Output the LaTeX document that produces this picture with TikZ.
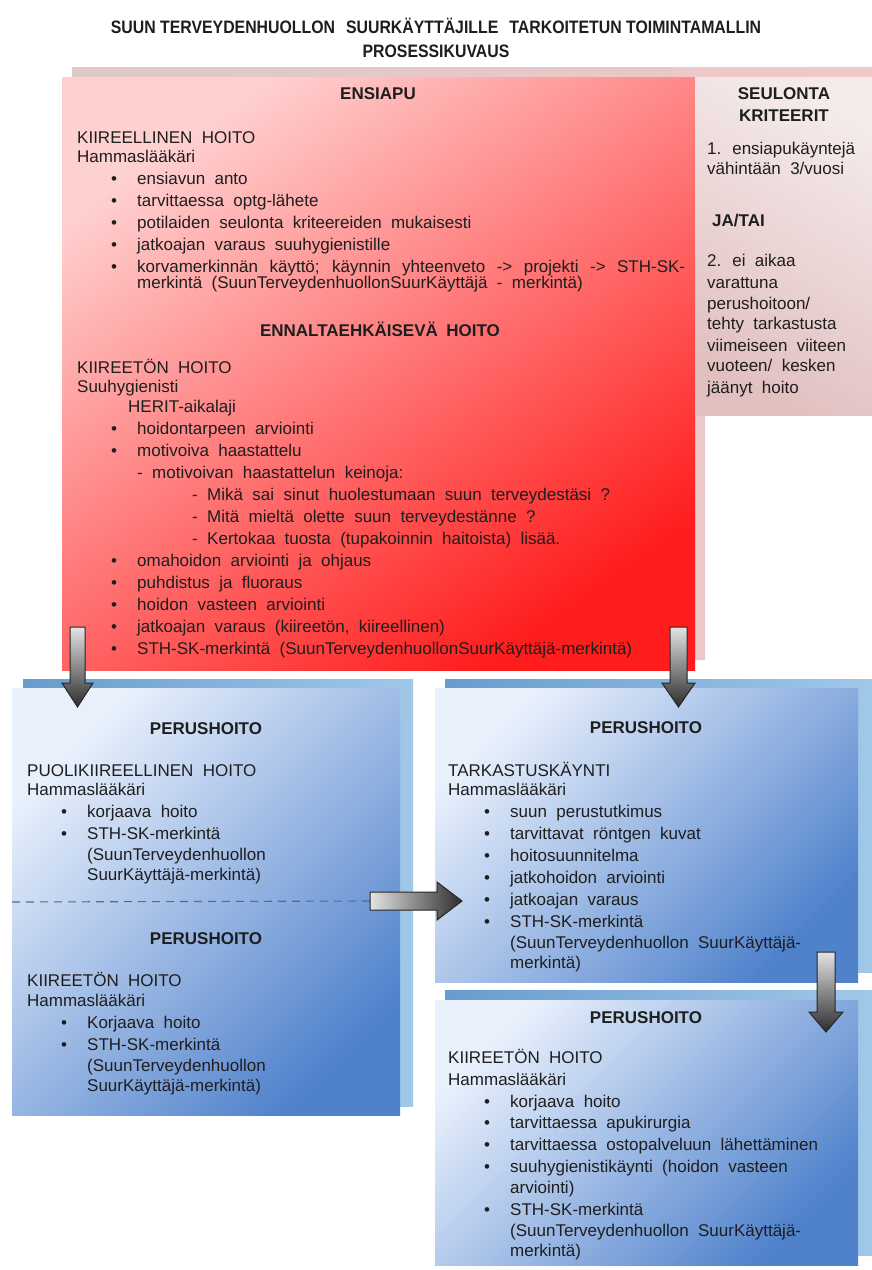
\documentclass[tikz,border=0pt]{standalone}
\usepackage{graphicx}
\usepackage{fontspec}
\setmainfont{Liberation Sans}
\usetikzlibrary{calc}

\definecolor{redlight}{RGB}{255,208,208}
\definecolor{reddeep}{RGB}{255,28,28}
\definecolor{redbackL}{RGB}{222,200,200}
\definecolor{redbackR}{RGB}{240,200,200}
\definecolor{seulA}{RGB}{244,234,234}
\definecolor{seulB}{RGB}{226,192,192}
\definecolor{bluelight}{RGB}{232,240,252}
\definecolor{bluedeep}{RGB}{80,130,204}
\definecolor{bluebackL}{RGB}{104,156,206}
\definecolor{bluebackR}{RGB}{160,200,232}
\definecolor{inkc}{RGB}{30,30,30}
\definecolor{dashc}{RGB}{78,108,150}
\definecolor{arrowlight}{RGB}{228,228,228}
\definecolor{arrowdark}{RGB}{45,45,45}

\newcommand\bodyfont{\fontsize{17}{20}\selectfont\spaceskip=0.55em plus 0.4em minus 0.1em\relax}
\newcommand\headfont{\fontsize{17}{20}\selectfont\bfseries}
\newcommand\titlefont{\fontsize{18}{20}\selectfont\bfseries}
\newcommand\itm[1]{\makebox[26pt][l]{\textbullet}#1}

% fat block arrows: start, tip, shaft half width, head half width, head length
\newcommand{\fatdown}[5]{%
  \path[fatarrow, top color=arrowlight, bottom color=arrowdark]
    ($(#1)+(-#3,0)$) -- ($(#2)+(-#3,-#5)$) -- ($(#2)+(-#4,-#5)$) -- (#2)
    -- ($(#2)+(#4,-#5)$) -- ($(#2)+(#3,-#5)$) -- ($(#1)+(#3,0)$) -- cycle;}
\newcommand{\fatright}[5]{%
  \path[fatarrow, left color=arrowlight, right color=arrowdark]
    ($(#1)+(0,-#3)$) -- ($(#2)+(-#5,-#3)$) -- ($(#2)+(-#5,-#4)$) -- (#2)
    -- ($(#2)+(-#5,#4)$) -- ($(#2)+(-#5,#3)$) -- ($(#1)+(0,#3)$) -- cycle;}

\tikzset{
  panel/.style={draw=none, inner sep=0pt, outer sep=0pt, anchor=north west},
  redmain/.style={panel, top color=redlight, bottom color=reddeep, shading angle=35},
  seulmain/.style={panel, top color=seulA, bottom color=seulB, shading angle=-30},
  blueback/.style={panel, left color=bluebackL, right color=bluebackR},
  bluemain/.style={panel, top color=bluelight, bottom color=bluedeep, shading angle=45},
  txt/.style={anchor=base west, inner sep=0pt, text=inkc, font=\bodyfont},
  headline/.style={anchor=base, inner sep=0pt, text=inkc, font=\headfont},
  fatarrow/.style={draw=black!85, line width=1pt, line join=miter},
  dashline/.style={draw=dashc, line width=1.1pt, dash pattern=on 8pt off 6pt}
}

\begin{document}
\begin{tikzpicture}[x=1pt,y=-1pt]
\useasboundingbox (0,0) rectangle (872,1270);
\fill[white] (0,0) rectangle (872,1270);

% title
\node[anchor=base, inner sep=0pt, text=inkc, font=\titlefont] (title1) at (436,33)
  {\scalebox{0.88}[1]{SUUN TERVEYDENHUOLLON\hspace{0.7em}SUURKÄYTTÄJILLE\hspace{0.7em}TARKOITETUN TOIMINTAMALLIN}};
\node[anchor=base, inner sep=0pt, text=inkc, font=\titlefont] (title2) at (436,57)
  {\scalebox{0.88}[1]{PROSESSIKUVAUS}};

% first aid panel with its backdrop and the screening criteria
\path[left color=redbackL, right color=redbackR]
  (72,67) -- (872,67) -- (872,415) -- (705,415) -- (705,660) -- (72,660) -- cycle;
\node[redmain, minimum width=633pt, minimum height=593pt] (ensiapu) at (62,77) {};
\node[seulmain, minimum width=177pt, minimum height=338pt] (seulonta) at (695,77) {};

% basic care panels
\node[blueback, minimum width=390pt, minimum height=427pt] (perusLback) at (23,679) {};
\node[bluemain, minimum width=388pt, minimum height=427pt] (perusL) at (12,688) {};
\node[blueback, minimum width=427pt, minimum height=293pt] (perusR1back) at (445,679) {};
\node[bluemain, minimum width=423pt, minimum height=294pt] (perusR1) at (435,688) {};
\node[blueback, minimum width=427pt, minimum height=265pt] (perusR2back) at (445,990) {};
\node[bluemain, minimum width=423pt, minimum height=265pt] (perusR2) at (435,1000) {};

% headings
\node[headline] (hEnsiapu) at (378,99) {ENSIAPU};
\node[headline] (hEnnalta) at (380,336) {ENNALTAEHKÄISEVÄ\hspace{0.5em}HOITO};
\node[headline] (hSeul1) at (784,99) {SEULONTA};
\node[headline] (hSeul2) at (784,121) {KRITEERIT};
\node[headline] (hPerusL1) at (206,734) {PERUSHOITO};
\node[headline] (hPerusL2) at (206,944) {PERUSHOITO};
\node[headline] (hPerusR1) at (646,733) {PERUSHOITO};
\node[headline] (hPerusR2) at (646,1023) {PERUSHOITO};

% first aid text
\foreach \px/\py/\tx [count=\n] in {
  77/143/{KIIREELLINEN HOITO},
  77/162/{Hammaslääkäri},
  111/184/{\itm{ensiavun anto}},
  111/206/{\itm{tarvittaessa optg-lähete}},
  111/228/{\itm{potilaiden seulonta kriteereiden mukaisesti}},
  111/250/{\itm{jatkoajan varaus suuhygienistille}},
  111/272/{\itm{\makebox[548pt][s]{korvamerkinnän käyttö; käynnin yhteenveto -> projekti -> STH-SK-}}},
  137/288/{merkintä (SuunTerveydenhuollonSuurKäyttäjä - merkintä)},
  77/373/{KIIREETÖN HOITO},
  77/392/{Suuhygienisti},
  128/412/{HERIT-aikalaji},
  111/434/{\itm{hoidontarpeen arviointi}},
  111/456/{\itm{motivoiva haastattelu}},
  137/478/{- motivoivan haastattelun keinoja:},
  192/500/{- Mikä sai sinut huolestumaan suun terveydestäsi ?},
  192/522/{- Mitä mieltä olette suun terveydestänne ?},
  192/544/{- Kertokaa tuosta (tupakoinnin haitoista) lisää.},
  111/566/{\itm{omahoidon arviointi ja ohjaus}},
  111/588/{\itm{puhdistus ja fluoraus}},
  111/610/{\itm{hoidon vasteen arviointi}},
  111/632/{\itm{jatkoajan varaus (kiireetön, kiireellinen)}},
  111/654/{\itm{STH-SK-merkintä (SuunTerveydenhuollonSuurKäyttäjä-merkintä)}}
}{\node[txt] (ea\n) at (\px,\py) {\tx};}

% screening criteria text
\foreach \px/\py/\tx [count=\n] in {
  707/154/{1. ensiapukäyntejä},
  707/174/{vähintään 3/vuosi},
  712/226/{\textbf{JA/TAI}},
  707/266/{2. ei aikaa},
  707/288/{varattuna},
  707/309/{perushoitoon/},
  707/329/{tehty tarkastusta},
  707/351/{viimeiseen viiteen},
  707/371/{vuoteen/ kesken},
  707/393/{jäänyt hoito}
}{\node[txt] (sk\n) at (\px,\py) {\tx};}

% left basic care text
\foreach \px/\py/\tx [count=\n] in {
  27/776/{PUOLIKIIREELLINEN HOITO},
  27/795/{Hammaslääkäri},
  61/817/{\itm{korjaava hoito}},
  61/839/{\itm{STH-SK-merkintä}},
  87/860/{(SuunTerveydenhuollon},
  87/880/{SuurKäyttäjä-merkintä)},
  27/986/{KIIREETÖN HOITO},
  27/1006/{Hammaslääkäri},
  61/1028/{\itm{Korjaava hoito}},
  61/1050/{\itm{STH-SK-merkintä}},
  87/1071/{(SuunTerveydenhuollon},
  87/1091/{SuurKäyttäjä-merkintä)}
}{\node[txt] (pl\n) at (\px,\py) {\tx};}

% check-up visit text
\foreach \px/\py/\tx [count=\n] in {
  448/776/{TARKASTUSKÄYNTI},
  448/795/{Hammaslääkäri},
  484/817/{\itm{suun perustutkimus}},
  484/839/{\itm{tarvittavat röntgen kuvat}},
  484/861/{\itm{hoitosuunnitelma}},
  484/883/{\itm{jatkohoidon arviointi}},
  484/905/{\itm{jatkoajan varaus}},
  484/927/{\itm{STH-SK-merkintä}},
  510/948/{(SuunTerveydenhuollon SuurKäyttäjä-},
  510/968/{merkintä)}
}{\node[txt] (pa\n) at (\px,\py) {\tx};}

% non-urgent treatment text
\foreach \px/\py/\tx [count=\n] in {
  448/1063/{KIIREETÖN HOITO},
  448/1085/{Hammaslääkäri},
  484/1107/{\itm{korjaava hoito}},
  484/1128/{\itm{tarvittaessa apukirurgia}},
  484/1150/{\itm{tarvittaessa ostopalveluun lähettäminen}},
  484/1172/{\itm{suuhygienistikäynti (hoidon vasteen}},
  510/1193/{arviointi)},
  484/1215/{\itm{STH-SK-merkintä}},
  510/1236/{(SuunTerveydenhuollon SuurKäyttäjä-},
  510/1256/{merkintä)}
}{\node[txt] (pk\n) at (\px,\py) {\tx};}

% connector end points
\coordinate (dashS) at (12,902);
\coordinate (hS) at (370,901);
\coordinate (hE) at (462,901);
\coordinate (d1S) at (77.5,627);
\coordinate (d1E) at (77.5,707);
\coordinate (d2S) at (678.5,627);
\coordinate (d2E) at (678.5,707);
\coordinate (d3S) at (826,952);
\coordinate (d3E) at (826,1032);

\draw[dashline] (dashS) -- (hS);

\fatdown{d1S}{d1E}{7.5}{15.5}{24}
\fatdown{d2S}{d2E}{8.5}{16.5}{24}
\fatright{hS}{hE}{9}{19}{25}
\fatdown{d3S}{d3E}{9}{17}{20}
\end{tikzpicture}
\end{document}
